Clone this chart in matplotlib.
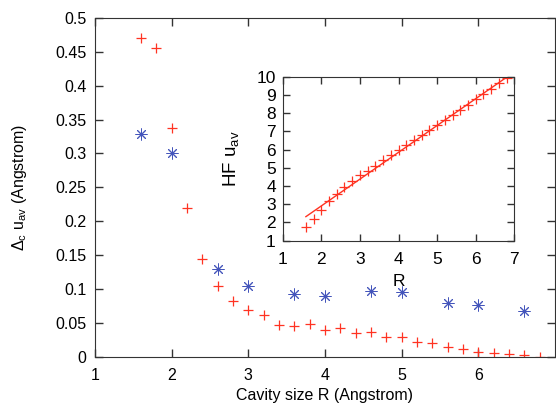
import numpy as np
import matplotlib
matplotlib.use('Agg')
import matplotlib.pyplot as plt

plt.rcParams['font.family'] = ['Liberation Sans', 'DejaVu Sans']
plt.rcParams['mathtext.fontset'] = 'custom'
plt.rcParams['mathtext.rm'] = 'Liberation Sans'
plt.rcParams['mathtext.it'] = 'Liberation Sans'

# Hauptdiagramm: rote Kreuze
r_red = [1.6, 1.8, 2.0, 2.2, 2.4, 2.6, 2.8, 3.0, 3.2, 3.4, 3.6, 3.8, 4.0, 4.2,
         4.4, 4.6, 4.8, 5.0, 5.2, 5.4, 5.6, 5.8, 6.0, 6.2, 6.4, 6.6, 6.8]
du_red = [0.470, 0.456, 0.338, 0.219, 0.144, 0.104, 0.082, 0.069, 0.062, 0.047,
          0.046, 0.048, 0.040, 0.042, 0.035, 0.036, 0.029, 0.029, 0.021, 0.020,
          0.015, 0.012, 0.007, 0.005, 0.004, 0.002, 0.000]

# Hauptdiagramm: blaue Sterne
r_blue = [1.6, 2.0, 2.6, 3.0, 3.6, 4.0, 4.6, 5.0, 5.6, 6.0, 6.6]
du_blue = [0.329, 0.300, 0.130, 0.105, 0.092, 0.089, 0.097, 0.095, 0.079, 0.077, 0.068]

# Einsatz: HF u_av
r_hf = r_red
hf_uav = [1.77, 2.19, 2.68, 3.18, 3.56, 3.95, 4.26, 4.59, 4.83, 5.10, 5.41, 5.70,
          5.99, 6.25, 6.53, 6.80, 7.08, 7.33, 7.63, 7.90, 8.17, 8.47, 8.78, 9.05,
          9.33, 9.64, 9.93]
fit_r = [1.6, 6.8]
fit_hf = [2.32, 9.97]

red = '#ff3322'
blue = '#4455bb'
dark = '#333333'

fig = plt.figure(figsize=(5.56, 4.07), dpi=100)
ax = fig.add_axes([0.171, 0.1236, 0.827, 0.8322])
ax.plot(r_red, du_red, linestyle='none', marker='+', ms=7, mew=0.9, color=red)
ax.plot(r_blue, du_blue, linestyle='none', marker=(8, 2, 0), ms=8.5, mew=0.7, color=blue)
ax.set_xlim(1, 7)
ax.set_ylim(0, 0.5)
ax.set_xticks([1, 2, 3, 4, 5, 6])
ax.set_yticks(np.arange(0, 0.51, 0.05))
ax.set_yticklabels(['0', '0.05', '0.1', '0.15', '0.2', '0.25', '0.3', '0.35', '0.4', '0.45', '0.5'])
ax.tick_params(direction='in', top=True, right=True, length=6, width=1, color=dark,
               labelsize=11.5, pad=6)
ax.tick_params(axis='x', pad=8)
for s in ax.spines.values():
    s.set_color(dark)
ax.set_xlabel('Cavity size R (Angstrom)', fontsize=11.5, labelpad=4)
ax.set_ylabel(r'$\Delta_\mathrm{c}$ u$_\mathrm{av}$ (Angstrom)', fontsize=11.5, labelpad=19)

# Einsatz
ins = fig.add_axes([0.5085, 0.4086, 0.4165, 0.4029])
ins.plot(fit_r, fit_hf, color=red, lw=1)
ins.plot(r_hf, hf_uav, linestyle='none', marker='+', ms=7, mew=0.9, color=red)
ins.set_xlim(1, 7)
ins.set_ylim(1, 10)
ins.set_xticks(range(1, 8))
ins.set_yticks(range(1, 11))
ins.tick_params(direction='in', top=True, right=True, length=5, width=1, color=dark,
                labelsize=12.5, pad=5)
ins.tick_params(axis='x', pad=8)
for s in ins.spines.values():
    s.set_color(dark)
ins.set_xlabel('R', fontsize=12.5, labelpad=5.5)
ins.set_ylabel(r'HF u$_\mathrm{av}$', fontsize=13.5, labelpad=11)

fig.savefig('out.png', dpi=100)
